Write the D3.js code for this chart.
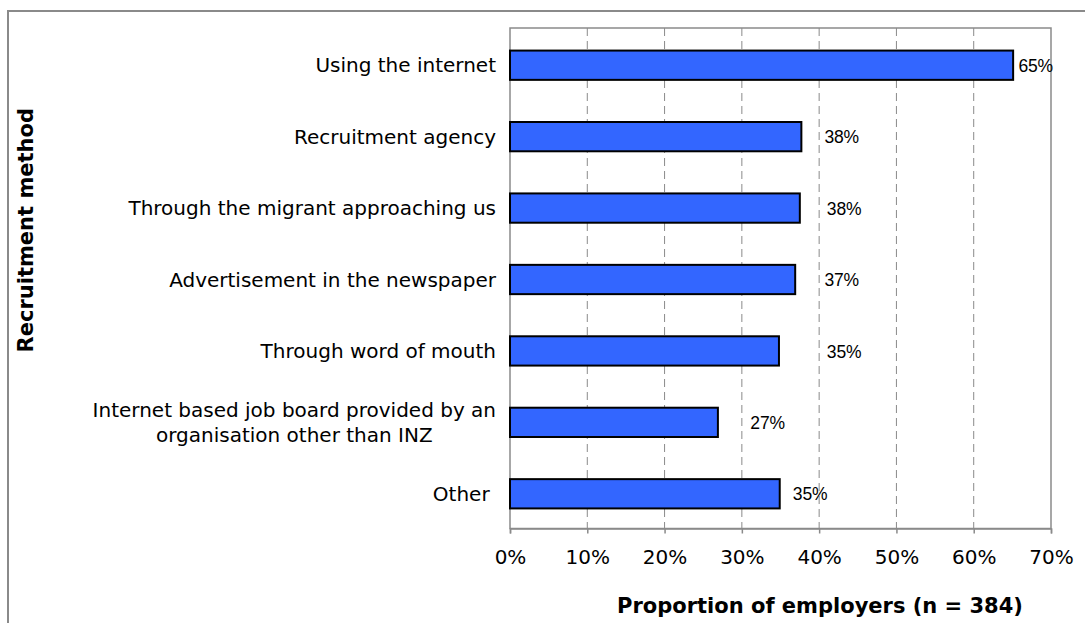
<!DOCTYPE html>
<html>
<head>
<meta charset="utf-8">
<script src="https://cdn.jsdelivr.net/npm/d3@7"></script>
<style>
  html, body { margin: 0; padding: 0; background: #fff; }
  svg { display: block; }
</style>
</head>
<body>
<div id="chart"></div>
<script>
// Recruitment methods used by employers (share of employers, n = 384)
const categories = [
  "Using the internet",
  "Recruitment agency",
  "Through the migrant approaching us",
  "Advertisement in the newspaper",
  "Through word of mouth",
  "Internet based job board provided by an\norganisation other than INZ",
  "Other "
];
const shares = [0.651, 0.377, 0.375, 0.369, 0.348, 0.269, 0.349];
// where each value label sits along the value axis
const labelAt = [0.658, 0.407, 0.410, 0.407, 0.410, 0.311, 0.366];
const xTicks = [0, 0.1, 0.2, 0.3, 0.4, 0.5, 0.6, 0.7];
const xTitle = "Proportion of employers (n = 384)";
const yTitle = "Recruitment method";

const W = 1085, H = 623;
const plot = { left: 510, right: 1051, top: 28, bottom: 528.5 };
const sans = "'DejaVu Sans', Verdana, sans-serif";
const narrow = "'Liberation Sans', Arial, sans-serif";
const grey = "#8a8a8a";

const svg = d3.select("#chart").append("svg")
  .attr("width", W).attr("height", H)
  .attr("viewBox", `0 0 ${W} ${H}`);

svg.append("rect").attr("width", W).attr("height", H).attr("fill", "#fff");

// outer frame of the figure
svg.append("rect")
  .attr("x", 8).attr("y", 11)
  .attr("width", W + 50).attr("height", H + 50)
  .attr("fill", "none").attr("stroke", grey).attr("stroke-width", 2);

const x = d3.scaleLinear().domain([0, 0.7]).range([plot.left, plot.right]);
const y = d3.scaleBand()
  .domain(categories)
  .range([plot.top + 1.5, plot.bottom + 1])
  .paddingInner(0.59)
  .paddingOuter(0.295);

// dashed vertical gridlines
svg.append("g")
  .selectAll("line")
  .data(xTicks.slice(1, -1))
  .join("line")
  .attr("x1", d => x(d)).attr("x2", d => x(d))
  .attr("y1", plot.top).attr("y2", plot.bottom)
  .attr("stroke", grey).attr("stroke-width", 1)
  .attr("stroke-dasharray", "8,5");

// plot area frame
svg.append("rect")
  .attr("x", plot.left).attr("y", plot.top)
  .attr("width", plot.right - plot.left).attr("height", plot.bottom - plot.top)
  .attr("fill", "none").attr("stroke", grey).attr("stroke-width", 1.5);

// value axis
const xAxis = svg.append("g")
  .attr("transform", `translate(0,${plot.bottom})`)
  .call(d3.axisBottom(x).tickValues(xTicks).tickFormat(d3.format(".0%"))
    .tickSize(5).tickPadding(16));
xAxis.select(".domain").attr("stroke", grey).attr("stroke-width", 1.5);
xAxis.selectAll(".tick line").attr("stroke", grey).attr("stroke-width", 1.5);
xAxis.selectAll(".tick text")
  .attr("font-family", sans).attr("font-size", 20).attr("fill", "#000");

// bars
svg.append("g")
  .selectAll("rect")
  .data(categories)
  .join("rect")
  .attr("x", x(0))
  .attr("y", d => y(d))
  .attr("width", (d, i) => x(shares[i]) - x(0))
  .attr("height", y.bandwidth())
  .attr("fill", "#3366ff")
  .attr("stroke", "#000").attr("stroke-width", 2);

// value labels
svg.append("g")
  .selectAll("text")
  .data(categories)
  .join("text")
  .attr("x", (d, i) => x(labelAt[i]))
  .attr("y", d => y(d) + y.bandwidth() / 2)
  .attr("dy", "0.38em")
  .attr("font-family", narrow).attr("font-size", 17.5)
  .attr("letter-spacing", -0.2)
  .attr("fill", "#000")
  .text((d, i) => d3.format(".0%")(shares[i]));

// category labels: right edge against the axis, multi-line labels centred on their widest line
const labelRight = 496;
const lineGap = 25;
const catG = svg.append("g");
categories.forEach(cat => {
  const lines = cat.split("\n");
  const t = catG.append("text")
    .attr("font-family", sans).attr("font-size", 20).attr("fill", "#000")
    .style("white-space", "pre");
  const cy = y(cat) + y.bandwidth() / 2;
  lines.forEach((ln, j) => {
    t.append("tspan")
      .attr("y", cy + (j - (lines.length - 1) / 2) * lineGap)
      .attr("dy", "0.36em")
      .text(ln);
  });
  let widest = 0;
  t.selectAll("tspan").each(function () {
    widest = Math.max(widest, this.getComputedTextLength());
  });
  t.attr("text-anchor", "middle");
  t.selectAll("tspan").attr("x", labelRight - widest / 2);
});

// axis titles
svg.append("text")
  .attr("x", 820).attr("y", 613)
  .attr("text-anchor", "middle")
  .attr("font-family", sans).attr("font-size", 21).attr("font-weight", "bold")
  .attr("fill", "#000")
  .text(xTitle);

svg.append("text")
  .attr("transform", `translate(33,${(plot.top + plot.bottom) / 2 - 48}) rotate(-90)`)
  .attr("text-anchor", "middle")
  .attr("font-family", sans).attr("font-size", 21).attr("font-weight", "bold")
  .attr("fill", "#000")
  .text(yTitle);
</script>
</body>
</html>
